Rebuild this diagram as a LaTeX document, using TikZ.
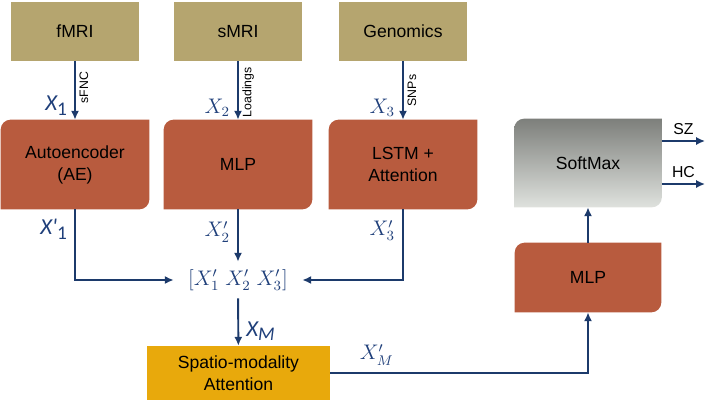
\documentclass[tikz,border=0pt]{standalone}
\usepackage{fontspec}
\setmainfont{Liberation Sans}
\newfontfamily\labfont{Carlito}
\usetikzlibrary{calc,arrows.meta,backgrounds}

\definecolor{tanfill}{HTML}{B5A56F}
\definecolor{rustfill}{HTML}{B85B3E}
\definecolor{goldfill}{HTML}{E8A90C}
\definecolor{navyline}{HTML}{1C3A6B}
\definecolor{navytext}{HTML}{1F3F7A}
\definecolor{smtop}{HTML}{7D7F7B}
\definecolor{smbot}{HTML}{DFE2DE}

\begin{document}
\begin{tikzpicture}[x=0.02cm, y=0.02cm,
    srcbox/.style={fill=tanfill, minimum width=2.56cm, minimum height=1.18cm, inner sep=0pt, font=\fontsize{10}{12}\selectfont},
    netbox/.style={minimum width=2.96cm, minimum height=1.78cm, inner sep=0pt, align=center, font=\fontsize{10}{12.5}\selectfont},
    flow/.style={draw=navyline, line width=1.1pt, -{Latex[length=5pt,width=4.6pt]}},
    side/.style={font=\fontsize{7}{8}\selectfont, rotate=90, inner sep=2pt},
    lab/.style={text=navytext, font=\labfont\itshape\fontsize{13}{14}\selectfont, inner sep=1pt},
    mlab/.style={text=navytext, font=\fontsize{12}{14}\selectfont, inner sep=1pt}]
\useasboundingbox (0,0) rectangle (709,400);

% inputs
\node[srcbox] (fmri) at (75,368.5) {fMRI};
\node[srcbox] (smri) at (238,368.5) {sMRI};
\node[srcbox] (gen) at (403,368.5) {Genomics};

% encoders
\node[netbox] (ae) at (75,235.5) {Autoencoder\\(AE)};
\node[netbox] (mlpa) at (238,235.5) {MLP};
\node[netbox] (lstm) at (403,235.5) {LSTM +\\Attention};
\node[netbox, minimum width=2.94cm, minimum height=1.76cm] (soft) at (588,237) {SoftMax};
\node[netbox, minimum width=2.92cm, minimum height=1.38cm] (mlpb) at (588,122.5) {MLP};

\node[fill=goldfill, minimum width=3.66cm, minimum height=1.08cm, inner sep=0pt, align=center,
      font=\fontsize{10}{12.5}\selectfont] (spat) at (238.5,27) {Spatio-modality\\Attention};
\node[mlab, minimum width=2.56cm, minimum height=0.72cm] (cat) at (238,120) {$[X'_1\;X'_2\;X'_3]$};

\coordinate (sz) at (705,259);
\coordinate (hc) at (705,216);

\begin{scope}[on background layer]
  \foreach \n in {ae,mlpa,lstm,mlpb}
    \fill[rustfill] (\n.south west) -- ($(\n.north west)+(0,-2mm)$) arc[start angle=180, end angle=90, radius=2mm]
      -- (\n.north east) -- ($(\n.south east)+(0,2mm)$) arc[start angle=0, end angle=-90, radius=2mm] -- cycle;
  \shade[top color=smtop, bottom color=smbot] (soft.south west) -- ($(soft.north west)+(0,-2mm)$)
      arc[start angle=180, end angle=90, radius=2mm] -- (soft.north east) -- ($(soft.south east)+(0,2mm)$)
      arc[start angle=0, end angle=-90, radius=2mm] -- cycle;
\end{scope}

% connectors
\draw[flow] (fmri) -- (ae) node[pos=0.45, below, side] {sFNC}
  node[pos=0.76, left=3pt, lab] {X\raisebox{-0.4ex}{\upshape\fontsize{11}{11}\selectfont 1}};
\draw[flow] (smri) -- (mlpa) node[pos=0.53, below, side] {Loadings} node[pos=0.8, left=3pt, mlab] {$X_2$};
\draw[flow] (gen) -- (lstm) node[pos=0.5, below, side] {SNPs} node[pos=0.8, left=3pt, mlab] {$X_3$};

\draw[flow] (ae) |- (cat) node[pos=0.14, left=3pt, lab] {X'\raisebox{-0.4ex}{\upshape\fontsize{11}{11}\selectfont 1}};
\draw[flow] (mlpa) -- (cat) node[pos=0.43, left=3pt, mlab] {$X'_2$};
\draw[flow] (lstm) |- (cat) node[pos=0.15, left=3pt, mlab] {$X'_3$};
\draw[flow] (cat) -- (spat) node[pos=0.7, right=3pt, lab] {X\raisebox{-0.4ex}{\fontsize{11}{11}\selectfont M}};
\draw[flow] (spat) -| (mlpb) node[pos=0.09, above=3pt, mlab] {$X'_M$};
\draw[flow] (mlpb) -- (soft);

\draw[flow] (soft.east |- sz) -- (sz) node[midway, above, font=\fontsize{9}{10}\selectfont] {SZ};
\draw[flow] (soft.east |- hc) -- (hc) node[midway, above, font=\fontsize{9}{10}\selectfont] {HC};
\end{tikzpicture}
\end{document}
